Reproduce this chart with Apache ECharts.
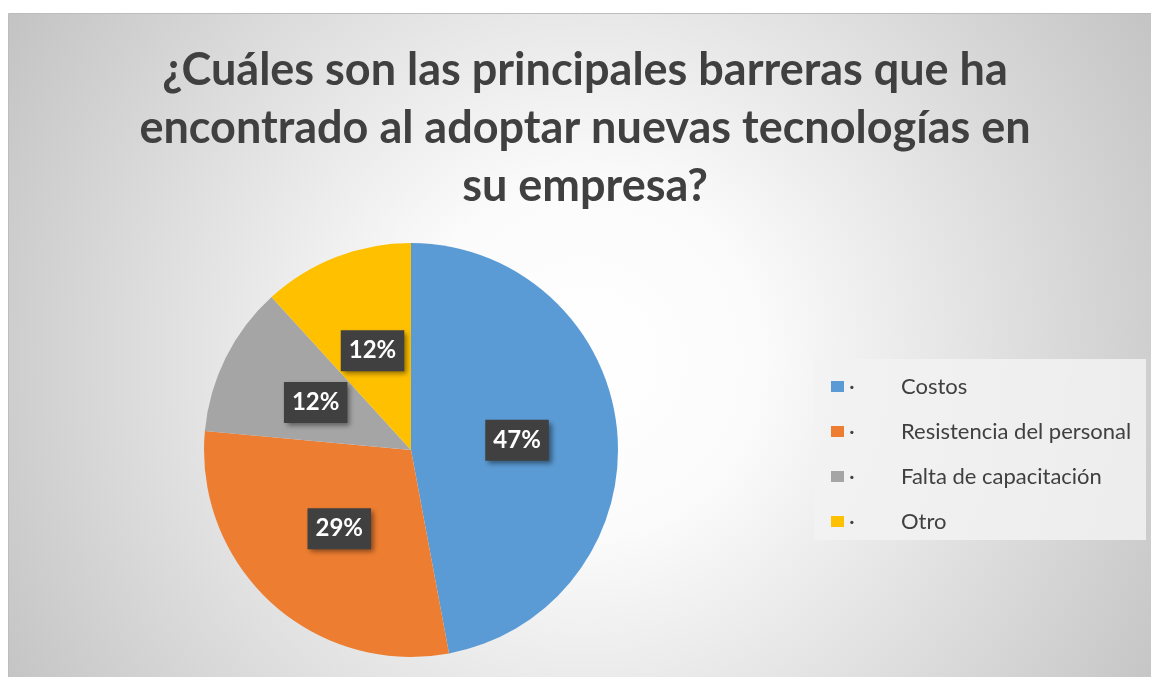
<!DOCTYPE html>
<html>
<head>
<meta charset="utf-8">
<style>
  html, body { margin: 0; padding: 0; background: #fff; }
  #chart { width: 1151px; height: 677px; }
</style>
<script src="https://cdn.jsdelivr.net/npm/echarts@6/dist/echarts.min.js"></script>
</head>
<body>
<div id="chart"></div>
<script>
// datos de la encuesta (17 respuestas)
const categorias = ['Costos', 'Resistencia del personal', 'Falta de capacitación', 'Otro'];
const respuestas = [8, 5, 2, 2];
const colores = ['#5B9BD5', '#ED7D31', '#A5A5A5', '#FFC000'];
const titulo = '¿Cuáles son las principales barreras que ha\nencontrado al adoptar nuevas tecnologías en\nsu empresa?';

const fuente = 'Lato, "Open Sans", sans-serif';

const chart = echarts.init(document.getElementById('chart'), null, { renderer: 'canvas' });

const option = {
  animation: false,
  textStyle: { fontFamily: fuente },
  color: colores,
  graphic: [
    {
      type: 'rect',
      z: -10,
      silent: true,
      shape: { x: 8.5, y: 13.5, width: 1150, height: 670 },
      style: {
        fill: new echarts.graphic.RadialGradient(585, 360, 700, [
          { offset: 0, color: '#ffffff' },
          { offset: 0.25, color: '#fbfbfb' },
          { offset: 1, color: '#c0c0c0' }
        ], true),
        stroke: '#bdbdbd',
        lineWidth: 1
      }
    },
    {
      // fondo de la leyenda
      type: 'rect',
      z: -5,
      silent: true,
      shape: { x: 814, y: 359, width: 332, height: 181 },
      style: { fill: 'rgba(242,242,242,0.85)' }
    },
    {
      // título centrado sobre el área del gráfico
      type: 'text',
      x: 585,
      y: 41,
      silent: true,
      style: {
        text: titulo,
        align: 'center',
        verticalAlign: 'top',
        font: 'bold 45px ' + fuente,
        lineHeight: 58,
        fill: '#404040'
      }
    }
  ],
  legend: {
    orient: 'vertical',
    left: 826,
    top: 370,
    icon: 'rect',
    itemWidth: 13,
    itemHeight: 11,
    itemGap: 22,
    data: categorias,
    formatter: function (name) { return '{d|·}' + name; },
    textStyle: {
      fontFamily: fuente,
      fontSize: 22,
      color: '#404040',
      lineHeight: 23,
      rich: {
        d: { width: 52, fontSize: 22, color: '#404040' }
      }
    }
  },
  series: [
    {
      type: 'pie',
      center: [411, 450],
      radius: 207,
      startAngle: 90,
      clockwise: true,
      percentPrecision: 0,
      label: {
        position: 'inside',
        formatter: '{d}%',
        fontFamily: fuente,
        fontSize: 24,
        fontWeight: 'bold',
        color: '#ffffff',
        backgroundColor: '#404040',
        lineHeight: 26,
        padding: [8, 8, 7, 8],
        shadowBlur: 5,
        shadowOffsetX: 3,
        shadowOffsetY: 3,
        shadowColor: 'rgba(0,0,0,0.45)'
      },
      labelLine: { show: false },
      itemStyle: { borderWidth: 0 },
      emphasis: { disabled: true },
      data: categorias.map(function (nombre, i) {
        return { name: nombre, value: respuestas[i] };
      })
    }
  ]
};

chart.setOption(option);
window.onresize = function () {
  chart.resize();
};
</script>
</body>
</html>
